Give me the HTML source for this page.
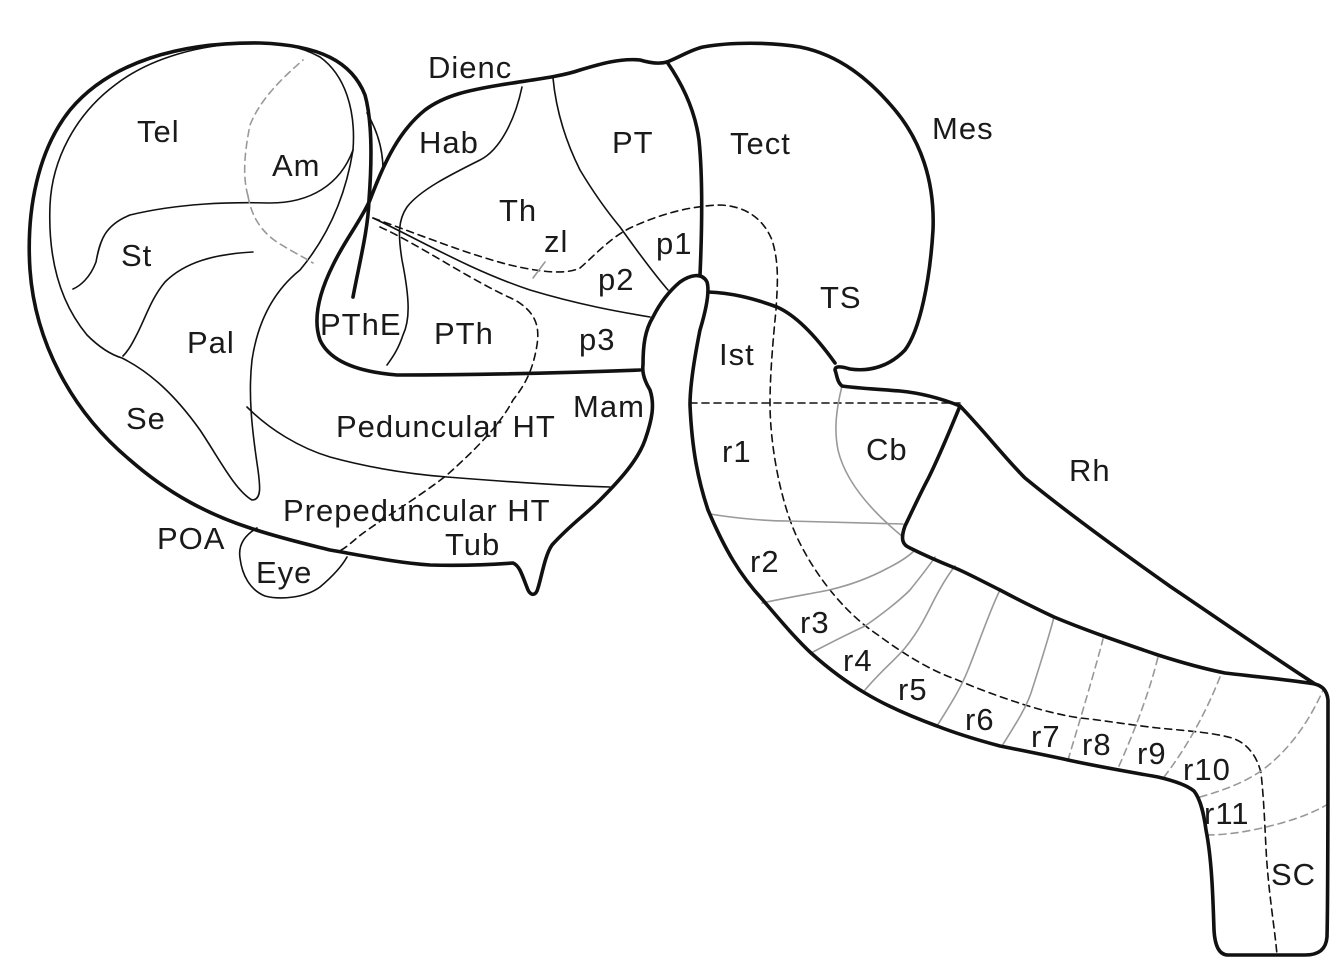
<!DOCTYPE html>
<html><head><meta charset="utf-8"><style>
html,body{margin:0;padding:0;background:#fff;}
svg{display:block;}
text{font-family:"Liberation Sans",Arial,sans-serif;font-size:31px;letter-spacing:1px;fill:#1a1a1a;}
</style></head><body>
<svg width="1344" height="979" viewBox="0 0 1344 979" xmlns="http://www.w3.org/2000/svg">
<g fill="none" stroke="#111" stroke-linecap="round" stroke-linejoin="round">
<g stroke-width="1.6">
<path d="M353,150 C356,110 345,75 320,57 C300,46 280,43 253,43 C200,44 150,58 115,85 C75,115 52,160 50,205 C48,255 58,300 87,335 C100,348 112,355 122,358 C150,372 175,395 200,430 C220,460 235,490 252,500 C262,500 260,485 258,470 C252,430 248,395 252,360 C258,320 275,290 300,270 C325,240 345,200 353,150"/>
<path d="M353,150 C340,185 310,203 270,203 C230,202 180,203 130,215 C105,225 100,240 96,262 C90,278 80,286 73,289"/>
<path d="M253,252 C215,254 185,262 165,282 C150,300 145,320 135,338 C130,348 126,353 123,356"/>
<path d="M367,113 C377,130 383,150 383,170"/>
<path d="M247,407 C270,430 300,448 330,457 C370,468 410,474 447,477 C510,482 570,486 610,487"/>
<path d="M522,87 C515,120 500,150 480,160 C450,175 420,190 407,207 C398,220 398,235 402,260 C410,300 410,320 403,335 C398,350 392,358 387,365"/>
<path d="M553,78 C556,110 565,140 580,170 C595,195 610,215 620,227 C640,255 655,275 668,290"/>
<path d="M373,218 C420,240 470,270 530,290 C580,305 620,312 650,317"/>
<path d="M257,528 C245,535 238,545 240,558 C242,575 250,590 265,596 C280,600 305,598 320,587 C333,576 342,566 347,557"/>
</g>
<g stroke-width="1.6" stroke-dasharray="7,5">
<path d="M373,218 C420,235 470,255 510,265 C540,272 565,275 580,268 C595,255 610,238 630,228 C660,214 690,206 720,205 C745,206 763,218 772,240 C780,265 777,290 776,310 C772,350 770,380 770,403 C770,440 778,490 793,528 C808,565 840,610 878,635 C905,655 930,670 955,679 C985,692 1010,700 1022,704 C1050,713 1075,718 1090,719 C1120,723 1140,726 1158,728 C1190,731 1215,733 1232,738 C1250,744 1258,760 1261,773 C1264,800 1265,830 1266,848 C1268,890 1275,930 1277,955"/>
<path d="M380,227 C420,245 470,280 515,300 C535,312 540,325 537,345 C533,370 525,385 513,400 C500,425 475,450 447,475 C415,500 380,520 358,537 C350,544 343,550 337,552"/>
<path d="M690,403 L960,403"/>
</g>
<g stroke="#999" stroke-width="1.6">
<path d="M842,386 C836,410 834,430 838,450 C845,480 870,510 903,537"/>
<path d="M710,514 C740,519 770,521 788,521 C830,522 870,523 903,524"/>
<path d="M762,603 C790,597 815,593 829,590 C855,584 875,575 888,568 C900,562 910,555 915,550"/>
<path d="M811,653 C830,643 850,633 865,626 C885,612 900,600 910,590 C922,575 930,565 935,557"/>
<path d="M865,690 C880,672 895,660 905,648 C918,632 925,618 932,604 C940,588 948,575 955,566"/>
<path d="M937,726 C950,705 960,690 968,670 C980,640 990,610 1000,590"/>
<path d="M1002,746 C1015,725 1025,710 1031,693 C1040,665 1048,640 1054,617"/>
<path d="M248,196 C242,175 245,150 250,125 C260,100 280,80 303,60" stroke-dasharray="7,5"/>
<path d="M248,196 C252,220 265,235 280,244 C295,253 305,258 313,263" stroke-dasharray="7,5"/>
<path d="M533,278 L545,262"/>
<path d="M1068,760 C1080,720 1095,670 1103,639" stroke-dasharray="7,5"/>
<path d="M1119,766 C1135,730 1150,690 1158,657" stroke-dasharray="7,5"/>
<path d="M1164,777 C1185,750 1205,715 1220,677" stroke-dasharray="7,5"/>
<path d="M1200,797 C1225,790 1245,782 1261,771 C1290,750 1310,720 1324,688" stroke-dasharray="7,5"/>
<path d="M1207,835 C1230,835 1255,830 1270,826 C1295,820 1315,812 1328,804" stroke-dasharray="7,5"/>
</g>
<g stroke-width="3.6">
<path d="M353,297 C360,260 368,230 369,200 C372,160 372,120 365,95 C352,62 320,45 260,43 C180,42 110,62 70,110 C38,150 26,210 30,270 C35,340 70,410 130,460 C170,495 210,515 250,528 C280,538 310,545 330,550 C370,557 400,563 430,565 C470,566 500,564 513,563 C520,566 522,575 528,590 C531,596 536,596 538,588 C542,575 545,555 552,545 C570,525 585,515 600,500 C620,480 638,460 645,440 C652,420 655,405 650,390 C644,380 642,372 643,365 C643,345 645,330 653,317 C660,303 668,292 680,282 C690,275 702,272 707,282 C710,292 706,310 700,330 C694,360 690,385 690,405 C692,450 698,480 708,510 C725,550 740,575 762,599 C780,620 795,638 811,653 C830,670 848,683 865,693 C890,708 915,718 937,726 C960,735 985,742 1000,746 C1030,752 1050,756 1068,760 C1100,767 1130,772 1158,777 C1175,781 1188,786 1194,791 C1201,800 1204,815 1206,830 C1212,860 1213,900 1214,930 C1215,948 1220,955 1228,955 L1305,955 C1318,955 1326,950 1327,937 C1328,900 1328,800 1328,700 C1327,690 1322,686 1315,684"/>
<path d="M1315,684 C1290,680 1260,677 1225,673 C1200,668 1180,662 1158,655 C1120,642 1085,630 1054,617 C1035,608 1015,598 1000,590 C980,580 965,572 955,568 C935,560 918,552 910,548 C903,545 900,540 905,526 C915,505 922,490 928,479 C940,455 950,430 960,406 C985,432 1005,458 1025,478 C1070,515 1130,558 1171,587 C1220,620 1270,655 1315,684"/>
<path d="M960,406 C940,398 920,393 900,391 C875,389 855,388 842,386 C837,382 837,375 835,370 C835,366 840,366 850,369 C870,372 890,366 905,350 C920,330 930,280 933,230 C935,180 920,140 895,110 C870,80 840,55 800,47 C770,42 730,42 703,47 C690,50 680,57 667,62"/>
<path d="M708,292 C730,293 750,297 777,307 C795,315 815,335 835,363"/>
<path d="M667,62 C683,85 695,110 699,140 C703,180 702,230 700,275"/>
<path d="M667,62 C660,64 650,63 640,60 C620,58 600,64 580,70 C560,77 530,80 500,85 C470,90 445,95 425,110 C400,130 385,160 370,200 C360,222 345,240 333,265 C318,295 313,320 320,340 C330,362 360,372 397,375 C470,375 560,373 640,370"/>
</g>
</g>
<g>
<text x="428" y="78">Dienc</text>
<text x="137" y="142">Tel</text>
<text x="272" y="176">Am</text>
<text x="419" y="153">Hab</text>
<text x="612" y="153">PT</text>
<text x="730" y="154">Tect</text>
<text x="932" y="139">Mes</text>
<text x="499" y="221">Th</text>
<text x="544" y="252">zl</text>
<text x="121" y="266">St</text>
<text x="656" y="254">p1</text>
<text x="598" y="290">p2</text>
<text x="820" y="308">TS</text>
<text x="320" y="335">PThE</text>
<text x="434" y="344">PTh</text>
<text x="579" y="350">p3</text>
<text x="187" y="353">Pal</text>
<text x="719" y="365">Ist</text>
<text x="573" y="417">Mam</text>
<text x="126" y="429">Se</text>
<text x="336" y="437">Peduncular HT</text>
<text x="866" y="460">Cb</text>
<text x="722" y="462">r1</text>
<text x="1069" y="481">Rh</text>
<text x="157" y="549">POA</text>
<text x="283" y="521">Prepeduncular HT</text>
<text x="445" y="555">Tub</text>
<text x="256" y="583">Eye</text>
<text x="750" y="572">r2</text>
<text x="800" y="633">r3</text>
<text x="843" y="671">r4</text>
<text x="898" y="700">r5</text>
<text x="965" y="730">r6</text>
<text x="1031" y="747">r7</text>
<text x="1082" y="755">r8</text>
<text x="1137" y="764">r9</text>
<text x="1183" y="780">r10</text>
<text x="1204" y="824">r11</text>
<text x="1271" y="885">SC</text>
</g>
</svg>
</body></html>
